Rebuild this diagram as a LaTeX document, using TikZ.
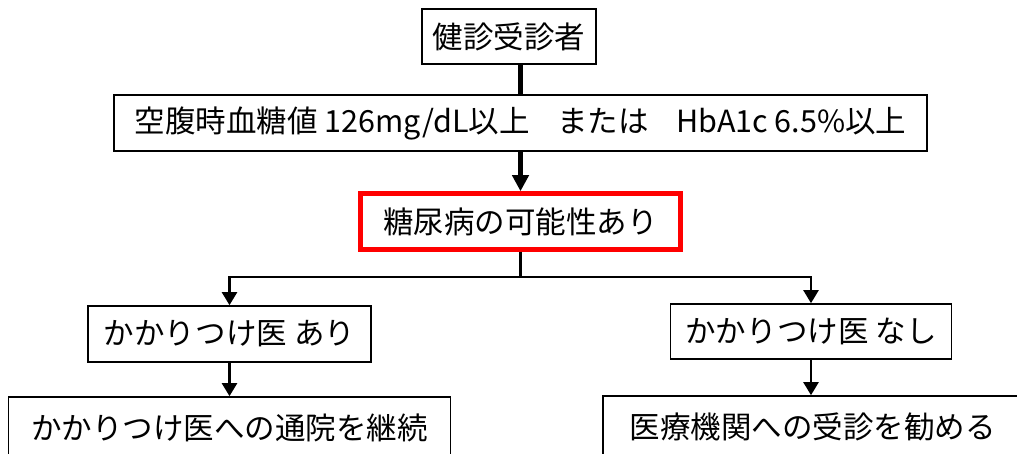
\documentclass[tikz,border=0pt]{standalone}
\usepackage{fontspec}
\setmainfont{Noto Sans CJK JP}
\usetikzlibrary{arrows.meta}
\tikzset{
	box/.style={draw, line width=1.6pt, inner sep=0pt, minimum height=56pt, font=\fontsize{30.5}{36}\selectfont},
	redbox/.style={box, draw=red, line width=4.5pt},
	link/.style={line width=2.2pt},
	thinarrow/.style={link, -{Triangle[width=15pt,length=13pt]}},
	thickarrow/.style={line width=5pt, -{Triangle[width=16pt,length=16pt]}}
}
\begin{document}
\begin{tikzpicture}[x=1pt,y=-1pt]
	\useasboundingbox (0,0) rectangle (1017,454);
	
	\node[box, minimum width=174pt, minimum height=55pt] (kenshin) at (509,36.5) {健診受診者};
	\node[box, minimum width=813pt] (kijun) at (520.5,123) {空腹時血糖値 126mg/dL以上\hspace{0.9em}または\hspace{0.9em}HbA1c 6.5\%以上};
	\node[redbox, minimum width=320pt] (kanousei) at (520.5,221.5) {糖尿病の可能性あり};
	
	\node[box, minimum width=283pt] (ari) at (229.5,334) {かかりつけ医 あり};
	\node[box, minimum width=281pt, minimum height=55pt] (nashi) at (811,331.5) {かかりつけ医 なし};
	\node[box, minimum width=442pt, minimum height=62pt] (keizoku) at (229.5,428) {かかりつけ医への通院を継続};
	\node[box, minimum width=419pt, minimum height=62pt] (jushin) at (812.5,427) {医療機関への受診を勧める};
	
	\coordinate (bunki) at (520.5,277);
	
	\draw[line width=5pt] (kijun.north |- kenshin.south) -- (kijun.north);
	\draw[thickarrow] (kijun.south) -- (kanousei.north);
	\draw[link] (kanousei.south) -- (bunki);
	\draw[thinarrow] (bunki) -| (ari.north);
	\draw[thinarrow] (bunki) -| (nashi.north);
	\draw[thinarrow] (ari.south) -- (ari.south |- keizoku.north);
	\draw[thinarrow] (nashi.south) -- (nashi.south |- jushin.north);
	
\end{tikzpicture}
\end{document}
